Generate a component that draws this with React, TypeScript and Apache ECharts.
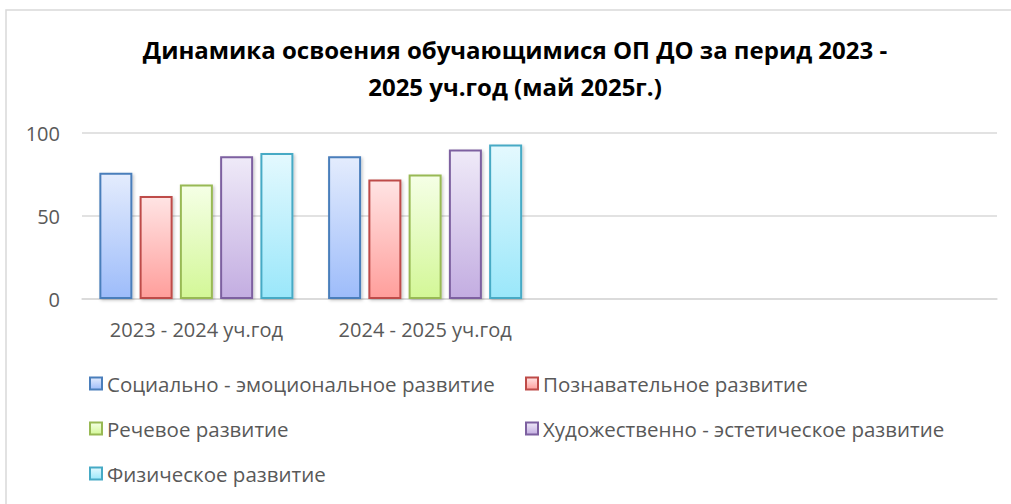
import React, { useEffect, useRef } from "react";
import * as echarts from "echarts";

const categories = ["2023 - 2024 уч.год", "2024 - 2025 уч.год", "", ""];
const seriesNames = [
  "Социально - эмоциональное развитие",
  "Познавательное развитие",
  "Речевое развитие",
  "Художественно - эстетическое развитие",
  "Физическое развитие",
];
const socialEmotional = [76, 86];
const cognitive = [62, 72];
const speech = [69, 75];
const artistic = [86, 90];
const physical = [88, 93];
const yTicks = { min: 0, max: 100, interval: 50 };
const titleText = "Динамика освоения обучающимися ОП ДО за перид 2023 -\n2025 уч.год (май 2025г.)";

const palette = [
  { top: "#e4ecfd", bottom: "#9dbcfa", border: "#4a7ebb" },
  { top: "#ffe4e4", bottom: "#ff9e9b", border: "#be4b48" },
  { top: "#f5ffe6", bottom: "#d3f797", border: "#98b954" },
  { top: "#efeaf8", bottom: "#c3ade1", border: "#7d60a0" },
  { top: "#e4f9fe", bottom: "#9ae7fa", border: "#46aac5" },
];

const legendPos = [
  { left: 89, top: 373 },
  { left: 525, top: 373 },
  { left: 89, top: 418 },
  { left: 525, top: 418 },
  { left: 89, top: 463 },
];

export default function App() {
  const ref = useRef<HTMLDivElement>(null);
  useEffect(() => {
    if (!ref.current) return;
    const chart = echarts.init(ref.current, undefined, { renderer: "svg" });
    const values = [socialEmotional, cognitive, speech, artistic, physical];
    const font = "'Open Sans', sans-serif";
    chart.setOption({
      animation: false,
      backgroundColor: "#ffffff",
      title: {
        text: titleText,
        left: 515,
        top: 31,
        textAlign: "center",
        padding: 0,
        textStyle: {
          fontFamily: font,
          fontWeight: "bold",
          fontSize: 24,
          lineHeight: 37,
          color: "#000000",
        },
      },
      graphic: [
        {
          type: "rect",
          shape: { x: 6, y: 10, width: 1030, height: 520 },
          style: { fill: "none", stroke: "#d9d9d9", lineWidth: 1.5 },
          silent: true,
          z: -10,
        },
      ],
      legend: seriesNames.map((name, i) => ({
        data: [name],
        left: legendPos[i].left,
        top: legendPos[i].top,
        padding: 0,
        itemWidth: 12,
        itemHeight: 12,
        icon: "rect",
        selectedMode: false,
        textStyle: {
          fontFamily: font,
          fontSize: 20.5,
          lineHeight: 21,
          color: "#595959",
        },
      })),
      grid: { left: 82, right: 14, top: 133, bottom: 205, containLabel: false },
      xAxis: {
        type: "category",
        data: categories,
        axisTick: { show: false },
        axisLine: { lineStyle: { color: "#d9d9d9", width: 1.5 } },
        axisLabel: {
          fontFamily: font,
          fontSize: 20,
          color: "#595959",
          margin: 20,
        },
      },
      yAxis: {
        type: "value",
        min: yTicks.min,
        max: yTicks.max,
        interval: yTicks.interval,
        axisLine: { show: false },
        axisTick: { show: false },
        splitLine: { lineStyle: { color: "#d9d9d9", width: 1.5 } },
        axisLabel: {
          fontFamily: font,
          fontSize: 20,
          color: "#595959",
          margin: 22,
        },
      },
      series: seriesNames.map((name, i) => ({
        name,
        type: "bar",
        data: values[i],
        barWidth: 33,
        barGap: "22%",
        itemStyle: {
          color: new echarts.graphic.LinearGradient(0, 0, 0, 1, [
            { offset: 0, color: palette[i].top },
            { offset: 1, color: palette[i].bottom },
          ]),
          borderColor: palette[i].border,
          borderWidth: 2,
          shadowColor: "rgba(0,0,0,0.22)",
          shadowBlur: 3,
          shadowOffsetX: 1.5,
          shadowOffsetY: 1.5,
        },
      })),
    });
    return () => chart.dispose();
  }, []);
  return (
    <div
      ref={ref}
      style={{ position: "fixed", left: 0, top: 0, width: 1011, height: 504 }}
    />
  );
}
